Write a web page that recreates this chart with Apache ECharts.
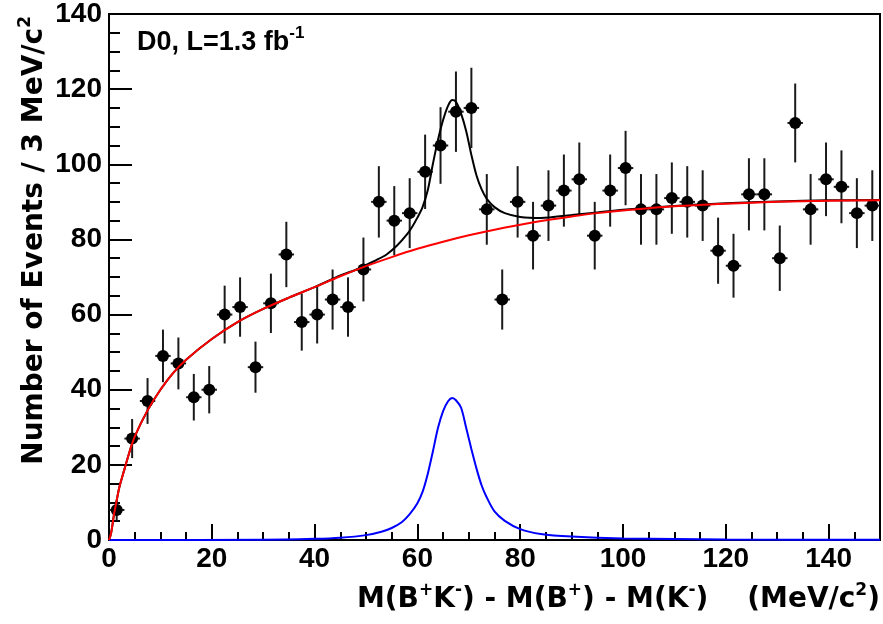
<!DOCTYPE html>
<html><head><meta charset="utf-8">
<script src="https://cdn.jsdelivr.net/npm/echarts@6/dist/echarts.min.js"></script>
<style>html,body{margin:0;padding:0;background:#fff}#c{width:883px;height:624px}</style>
</head><body><div id="c"></div>
<script>
// ---- data ----
const binHalfWidth = 1.5;
const binCenters = [1.5,4.5,7.5,10.5,13.5,16.5,19.5,22.5,25.5,28.5,31.5,34.5,37.5,40.5,43.5,46.5,49.5,52.5,55.5,58.5,61.5,64.5,67.5,70.5,73.5,76.5,79.5,82.5,85.5,88.5,91.5,94.5,97.5,100.5,103.5,106.5,109.5,112.5,115.5,118.5,121.5,124.5,127.5,130.5,133.5,136.5,139.5,142.5,145.5,148.5];
const counts = [8,27,37,49,47,38,40,60,62,46,63,76,58,60,64,62,72,90,85,87,98,105,114,115,88,64,90,81,89,93,96,81,93,99,88,88,91,90,89,77,73,92,92,75,111,88,96,94,87,89];
const errors = [2.8,5.2,6.1,7.0,6.9,6.2,6.3,7.7,7.9,6.8,7.9,8.7,7.6,7.7,8.0,7.9,8.5,9.5,9.2,9.3,9.9,10.2,10.7,10.7,9.4,8.0,9.5,9.0,9.4,9.6,9.8,9.0,9.6,9.9,9.4,9.4,9.5,9.5,9.4,8.8,8.5,9.6,9.6,8.7,10.5,9.4,9.8,9.7,9.3,9.4];

// background fit (red)
const bkgX = [0,0.25,0.5,1,1.5,2,3,4,5,7.5,10,12.5,15,20,25,30,35,40,45,50,55,60,65,70,75,80,85,90,95,100,110,120,130,140,150];
const bkgY = [0,1.0,2.5,7,10.5,14,18.8,23.5,27.5,34.5,40,44.5,48,53.5,58,61.5,64.5,67.3,70.2,72.9,75.3,77.5,79.4,81.1,82.6,83.9,85.1,86.1,87,87.7,88.8,89.5,90,90.3,90.4];
// total fit (black)
const totX = [0,0.25,0.5,1,1.5,2,3,4,5,7.5,10,12.5,15,20,25,30,35,40,45,48,50,52,54,56,58,59,60,61,62,63,64,65,66,66.8,67.5,68.5,69.5,70.5,71.5,72.5,73.5,75,77,80,84,90,95,100,110,120,130,140,150];
const totY = [0,1.0,2.5,7,10.5,14,18.8,23.5,27.5,34.5,40,44.5,48,53.5,58,61.5,64.5,67.3,70.4,71.9,73.2,74.5,76,78.3,81.4,83.4,85.8,88.6,93,100,106.5,111.8,115.7,117.1,116.6,113.5,108.8,102.5,97,93.3,90.8,88.6,87,86,85.7,86.5,87.2,87.9,88.9,89.6,90.1,90.4,90.5];
// signal (blue)
const sigX = [0,30,40,45,50,53,55,57,58.5,60,61,62,63,64,65,66,66.8,67.5,68.5,69.5,70.5,71.5,72.5,73.5,75,77,80,84,90,100,120,150];
const sigY = [0,0.05,0.3,0.6,1.3,2.2,3.2,4.8,6.9,9.8,12.8,17.5,23.5,29.8,34.3,37,37.8,37.2,35.2,29.8,24.2,19,14.5,11.3,7.6,5.1,2.9,1.6,0.9,0.4,0.15,0.05];

const yTickValues = [0,20,40,60,80,100,120,140];
const xTickLabels = [0,20,40,60,80,100,120,140];

const pairs = (xs, ys) => xs.map((x, i) => [x, ys[i]]);

const labelFont = {fontFamily: 'Liberation Sans, Arial, sans-serif', fontWeight: 'bold', fontSize: 28, color: '#000'};
const titleFamily = 'DejaVu Sans, sans-serif';

const chart = echarts.init(document.getElementById('c'), null, {renderer: 'canvas'});
chart.setOption({
  animation: false,
  backgroundColor: '#fff',
  grid: {left: 109, right: 3, top: 12, bottom: 84, show: true, borderColor: '#000', borderWidth: 2, backgroundColor: 'transparent'},
  xAxis: [{
    type: 'value', min: 0, max: 150, interval: 5,
    axisLine: {show: true, lineStyle: {color: '#000', width: 2}},
    axisTick: {show: true, inside: true, length: 8, lineStyle: {color: '#000', width: 2}},
    splitLine: {show: false},
    axisLabel: Object.assign({margin: 5, showMaxLabel: false,
      formatter: v => xTickLabels.indexOf(v) >= 0 ? String(v) : ''}, labelFont)
  }, {
    type: 'value', min: 0, max: 150, interval: 20, position: 'bottom',
    axisLine: {show: false},
    axisTick: {show: true, inside: true, length: 16, lineStyle: {color: '#000', width: 2}},
    splitLine: {show: false},
    axisLabel: {show: false}
  }],
  yAxis: {
    type: 'value', min: 0, max: 140, interval: 20,
    axisLine: {show: true, lineStyle: {color: '#000', width: 2}},
    axisTick: {show: true, inside: true, length: 23, lineStyle: {color: '#000', width: 2}},
    minorTick: {show: true, splitNumber: 4, length: 11, lineStyle: {color: '#000', width: 2}},
    splitLine: {show: false},
    axisLabel: Object.assign({margin: 7, formatter: v => yTickValues.indexOf(v) >= 0 ? String(v) : ''}, labelFont)
  },
  series: [
    {
      type: 'custom', xAxisIndex: 0, yAxisIndex: 0, z: 3,
      data: binCenters.map((x, i) => [x, counts[i], errors[i]]),
      encode: {x: 0, y: 1},
      renderItem: (params, api) => {
        const x = api.value(0), y = api.value(1), e = api.value(2);
        const t = api.coord([x, y + e]), b = api.coord([x, y - e]);
        const l = api.coord([x - binHalfWidth, y]), r = api.coord([x + binHalfWidth, y]);
        return {type: 'group', children: [
          {type: 'line', shape: {x1: t[0], y1: t[1], x2: b[0], y2: b[1]}, style: {stroke: '#1a1a1a', lineWidth: 2}},
          {type: 'line', shape: {x1: l[0], y1: l[1], x2: r[0], y2: r[1]}, style: {stroke: '#1a1a1a', lineWidth: 2}}
        ]};
      }
    },
    {
      type: 'scatter', xAxisIndex: 0, z: 4,
      data: pairs(binCenters, counts),
      symbol: 'circle', symbolSize: 12,
      itemStyle: {color: '#000', opacity: 1}
    },
    {type: 'line', xAxisIndex: 0, z: 5, data: pairs(sigX, sigY), smooth: 0.3, showSymbol: false, lineStyle: {color: '#0000ff', width: 2}},
    {type: 'line', xAxisIndex: 0, z: 5, data: pairs(totX, totY), smooth: 0.3, showSymbol: false, lineStyle: {color: '#000', width: 2}},
    {type: 'line', xAxisIndex: 0, z: 6, data: pairs(bkgX, bkgY), smooth: 0.3, showSymbol: false, lineStyle: {color: '#ff0000', width: 2}}
  ],
  graphic: [
    {type: 'text', x: 137, y: 43, z: 10, style: {
      text: '{a|D0, L=1.3 fb}{s|-1}', align: 'left', verticalAlign: 'middle',
      rich: {
        a: {fontFamily: 'Liberation Sans, Arial, sans-serif', fontWeight: 'bold', fontSize: 27, lineHeight: 36, fill: '#000'},
        s: {fontFamily: 'Liberation Sans, Arial, sans-serif', fontWeight: 'bold', fontSize: 17, lineHeight: 20, fill: '#000', verticalAlign: 'top'}
      }}},
    {type: 'text', x: 880, y: 600, z: 10, style: {
      text: '{a|M(B}{s|+}{a|K}{s|-}{a|) - M(B}{s|+}{a|) - M(K}{s|-}{a|)    (MeV/c}{s|2}{a|)}',
      align: 'right', verticalAlign: 'middle',
      rich: {
        a: {fontFamily: titleFamily, fontWeight: 'bold', fontSize: 28, lineHeight: 36, fill: '#000'},
        s: {fontFamily: titleFamily, fontWeight: 'bold', fontSize: 17, lineHeight: 20, fill: '#000', verticalAlign: 'top'}
      }}},
    {type: 'text', x: 35, y: 16, z: 10, rotation: Math.PI / 2, style: {
      text: '{a|Number of Events / 3 MeV/c}{s|2}',
      align: 'right', verticalAlign: 'middle',
      rich: {
        a: {fontFamily: titleFamily, fontWeight: 'bold', fontSize: 28, lineHeight: 36, fill: '#000'},
        s: {fontFamily: titleFamily, fontWeight: 'bold', fontSize: 17, lineHeight: 20, fill: '#000', verticalAlign: 'top'}
      }}}
  ]
});
</script>
</body></html>
